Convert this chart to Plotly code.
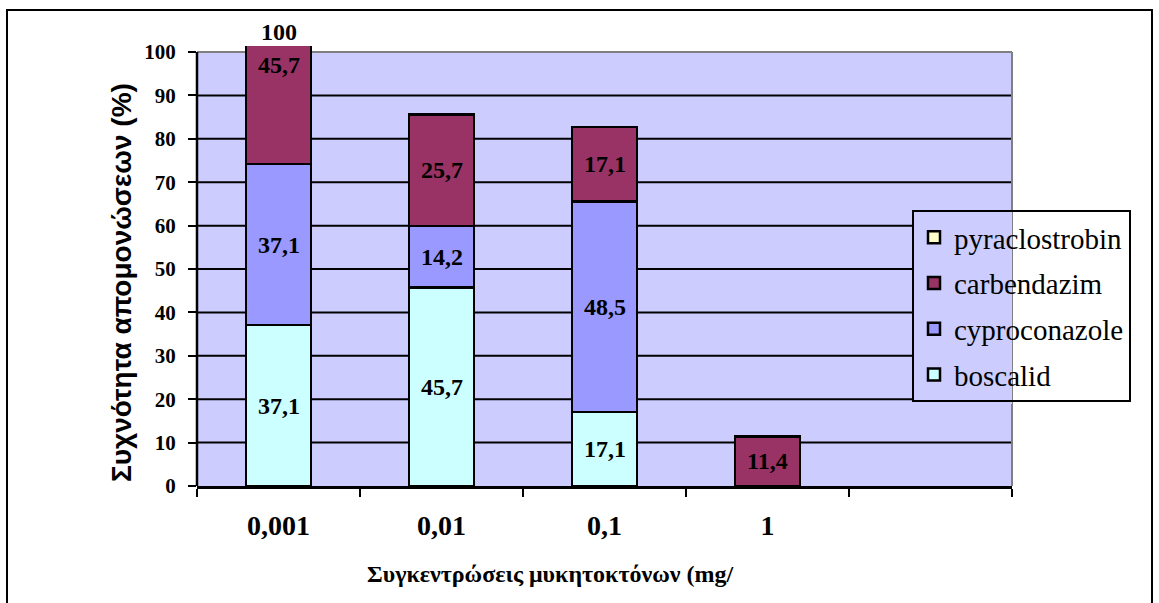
import plotly.graph_objects as go

# Fungicide concentrations (mg/l); the fifth slot on the axis is left empty
concentrations = ["0,001", "0,01", "0,1", "1"]
spare_slot = " "

# Isolation frequency (%) per fungicide at each concentration
boscalid = [37.1, 45.7, 17.1, None]
cyproconazole = [37.1, 14.2, 48.5, None]
carbendazim = [45.7, 25.7, 17.1, 11.4]
pyraclostrobin = [None, None, None, None]

# Total printed above the first stack
first_stack_total = 100

y_ticks = list(range(0, 101, 10))

# stacking order bottom -> top, with the legend listing them top -> bottom
series = [
    ("boscalid", boscalid, "#CCFFFF"),
    ("cyproconazole", cyproconazole, "#9999FF"),
    ("carbendazim", carbendazim, "#993366"),
    ("pyraclostrobin", pyraclostrobin, "#FFFFCC"),
]

W, H = 1159, 603
L, R, T, B = 197, 1012, 46, 486          # plot-area edges in pixels
Y_MAX = 101.4                            # lets the first stack spill past 100


def px_x(p):
    return (p - L) / (R - L)


def px_y(p):
    return (B - p) / (B - T)


def fmt(v):
    return "" if v is None else f"{v:.1f}".replace(".", ",")


SERIF = "Liberation Serif"
SANS = "Liberation Sans"

fig = go.Figure()
annotations = []
base = [0.0] * len(concentrations)
for rank, (name, values, color) in enumerate(series):
    fig.add_trace(go.Bar(
        name=name,
        x=concentrations,
        y=values,
        legendgroup=name,
        legendrank=len(series) - rank,
        marker=dict(color=color, line=dict(color="black", width=2.5)),
        hoverinfo="skip",
    ))
    # value label centred on each segment (category axis addressed by index)
    for i, v in enumerate(values):
        if v is None:
            continue
        annotations.append(dict(
            text=fmt(v), x=i, y=base[i] + v / 2,
            xref="x", yref="y", showarrow=False,
            xanchor="center", yanchor="middle",
            font=dict(family=SERIF, size=24, color="black", weight="bold"),
        ))
        base[i] += v

shapes = []
# plot background only up to 100 %
shapes.append(dict(type="rect", xref="paper", yref="y", x0=0, x1=1, y0=0, y1=100,
                   fillcolor="#CCCCFF", line=dict(width=0), layer="below"))
# horizontal gridlines
for v in y_ticks[1:-1]:
    shapes.append(dict(type="line", xref="paper", yref="y", x0=0, x1=1, y0=v, y1=v,
                       line=dict(color="black", width=2), layer="below"))
# grey frame at the top and right of the plot area
shapes.append(dict(type="line", xref="paper", yref="y", x0=0, x1=1, y0=100, y1=100,
                   line=dict(color="#808080", width=2), layer="below"))
shapes.append(dict(type="line", xref="paper", yref="y", x0=1, x1=1, y0=0, y1=100,
                   line=dict(color="#808080", width=2), layer="below"))
# value axis line
shapes.append(dict(type="line", xref="paper", yref="y", x0=0, x1=0, y0=0, y1=100,
                   line=dict(color="black", width=2.5), layer="above"))
# area behind the legend inside the plot keeps the fill but hides gridlines
shapes.append(dict(type="rect", xref="paper", yref="paper",
                   x0=px_x(912), x1=1, y0=px_y(404), y1=px_y(211),
                   fillcolor="#CCCCFF", line=dict(width=0), layer="above"))
# outer chart border
shapes.append(dict(type="rect", xref="paper", yref="paper",
                   x0=px_x(7), x1=px_x(1152), y0=px_y(607), y1=px_y(10),
                   line=dict(color="black", width=2), fillcolor="rgba(0,0,0,0)",
                   layer="above"))

annotations += [
    dict(text=str(first_stack_total), x=0, y=100, xref="x", yref="y",
         yanchor="middle", yshift=20, showarrow=False,
         font=dict(family=SERIF, size=24, color="black", weight="bold")),
    dict(text="Συχνότητα απομονώσεων (%)", x=px_x(121), y=px_y(283),
         xref="paper", yref="paper", textangle=-90, showarrow=False,
         xanchor="center", yanchor="middle",
         font=dict(family=SANS, size=28, color="black", weight="bold")),
    dict(text="Συγκεντρώσεις μυκητοκτόνων (mg/", x=px_x(550), y=px_y(574),
         xref="paper", yref="paper", showarrow=False,
         xanchor="center", yanchor="middle",
         font=dict(family=SERIF, size=24, color="black", weight="bold")),
]

fig.update_layout(
    width=W, height=H,
    margin=dict(l=L, r=W - R, t=T, b=H - B, autoexpand=False),
    paper_bgcolor="white",
    plot_bgcolor="white",
    barmode="stack",
    bargap=0.6,
    shapes=shapes,
    annotations=annotations,
    legend=dict(
        x=px_x(912), y=px_y(210), xanchor="left", yanchor="top",
        bgcolor="rgba(0,0,0,0)", bordercolor="black", borderwidth=2,
        font=dict(family=SERIF, size=29, color="black"),
        traceorder="grouped", tracegroupgap=5,
    ),
    xaxis=dict(
        type="category",
        categoryorder="array",
        categoryarray=concentrations + [spare_slot],
        range=[-0.5, 4.5],
        tickson="boundaries",
        ticks="outside", ticklen=8, tickwidth=2, tickcolor="black",
        showline=True, linecolor="black", linewidth=2.5,
        showgrid=False, zeroline=False,
        ticklabelstandoff=13,
        tickfont=dict(family=SERIF, size=28, color="black", weight="bold"),
    ),
    yaxis=dict(
        range=[0, Y_MAX],
        tickvals=y_ticks,
        ticktext=[str(v) for v in y_ticks],
        ticks="outside", ticklen=8, tickwidth=2, tickcolor="black",
        showline=False, showgrid=False, zeroline=False,
        ticklabelstandoff=8,
        tickfont=dict(family=SERIF, size=21, color="black", weight="bold"),
    ),
    showlegend=True,
)

fig.write_html("out.html")
